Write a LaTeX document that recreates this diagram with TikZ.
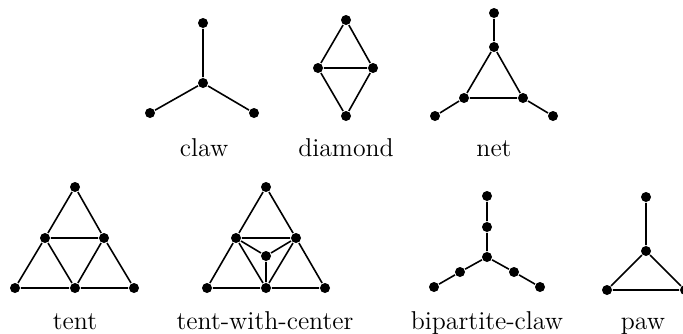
\documentclass[tikz,border=0pt]{standalone}
\usepackage{tikz}

\begin{document}
\begin{tikzpicture}[x=0.5pt, y=-0.5pt, line width=0.8pt,
  vtx/.style={circle, fill=black, inner sep=0pt, minimum size=5pt},
  lbl/.style={anchor=base, inner sep=0pt, font=\fontsize{12.9}{15.5}\selectfont}]
  \useasboundingbox (0,0) rectangle (683,333);
  % claw
  \begin{scope}[shift={(203,83)}]
    \node[vtx] (clawc) at (0,0) {};
    \node[vtx] (clawt) at (0,-60) {};
    \node[vtx] (clawl) at (-53,30) {};
    \node[vtx] (clawr) at (51,30) {};
    \draw (clawc) -- (clawt) (clawc) -- (clawl) (clawc) -- (clawr);
  \end{scope}
  \node[lbl] (clawname) at (204,156) {claw};
  % diamond
  \begin{scope}[shift={(346,68)}]
    \node[vtx] (diat) at (0,-48) {};
    \node[vtx] (dial) at (-28,0) {};
    \node[vtx] (diar) at (27,0) {};
    \node[vtx] (diab) at (0,48) {};
    \draw (diat) -- (dial) -- (diab) -- (diar) -- (diat) (dial) -- (diar);
  \end{scope}
  \node[lbl] (dianame) at (346,156) {diamond};
  % net
  \begin{scope}[shift={(494,81)}]
    \node[vtx] (nett) at (0,-68) {};
    \node[vtx] (netm) at (0,-34) {};
    \node[vtx] (netl) at (-30,17) {};
    \node[vtx] (netr) at (29,17) {};
    \node[vtx] (netfl) at (-59,35) {};
    \node[vtx] (netfr) at (59,35) {};
    \draw (nett) -- (netm) -- (netl) -- (netr) -- (netm);
    \draw (netl) -- (netfl) (netr) -- (netfr);
  \end{scope}
  \node[lbl] (netname) at (494,156) {net};
  % tent
  \begin{scope}[shift={(75,238)}]
    \node[vtx] (tentt) at (0,-51) {};
    \node[vtx] (tentml) at (-30,0) {};
    \node[vtx] (tentmr) at (29,0) {};
    \node[vtx] (tentbl) at (-60,50) {};
    \node[vtx] (tentbm) at (0,50) {};
    \node[vtx] (tentbr) at (59,50) {};
    \draw (tentt) -- (tentml) -- (tentbl) -- (tentbm) -- (tentbr) -- (tentmr) -- (tentt);
    \draw (tentml) -- (tentmr) -- (tentbm) -- (tentml);
  \end{scope}
  \node[lbl] (tentname) at (75,329) {tent};
  % tent-with-center
  \begin{scope}[shift={(266,238)}]
    \node[vtx] (twct) at (0,-51) {};
    \node[vtx] (twcml) at (-30,0) {};
    \node[vtx] (twcmr) at (30,0) {};
    \node[vtx] (twcc) at (0,18) {};
    \node[vtx] (twcbl) at (-59,50) {};
    \node[vtx] (twcbm) at (0,50) {};
    \node[vtx] (twcbr) at (59,50) {};
    \draw (twct) -- (twcml) -- (twcbl) -- (twcbm) -- (twcbr) -- (twcmr) -- (twct);
    \draw (twcml) -- (twcmr) -- (twcbm) -- (twcml);
    \draw (twcc) -- (twcml) (twcc) -- (twcmr) (twcc) -- (twcbm);
  \end{scope}
  \node[lbl] (twcname) at (265,329) {tent-with-center};
  % bipartite-claw
  \begin{scope}[shift={(487,257)}]
    \node[vtx] (bcc) at (0,0) {};
    \node[vtx] (bct1) at (0,-30) {};
    \node[vtx] (bct2) at (0,-61) {};
    \node[vtx] (bcl1) at (-27,15) {};
    \node[vtx] (bcl2) at (-53,30) {};
    \node[vtx] (bcr1) at (27,15) {};
    \node[vtx] (bcr2) at (53,30) {};
    \draw (bct2) -- (bct1) -- (bcc) -- (bcl1) -- (bcl2);
    \draw (bcc) -- (bcr1) -- (bcr2);
  \end{scope}
  \node[lbl] (bcname) at (487,329) {bipartite-claw};
  % paw
  \begin{scope}[shift={(646,251)}]
    \node[vtx] (pawc) at (0,0) {};
    \node[vtx] (pawt) at (0,-54) {};
    \node[vtx] (pawl) at (-39,39) {};
    \node[vtx] (pawr) at (39,39) {};
    \draw (pawt) -- (pawc) -- (pawl) -- (pawr) -- (pawc);
  \end{scope}
  \node[lbl] (pawname) at (643,329) {paw};
\end{tikzpicture}
\end{document}
